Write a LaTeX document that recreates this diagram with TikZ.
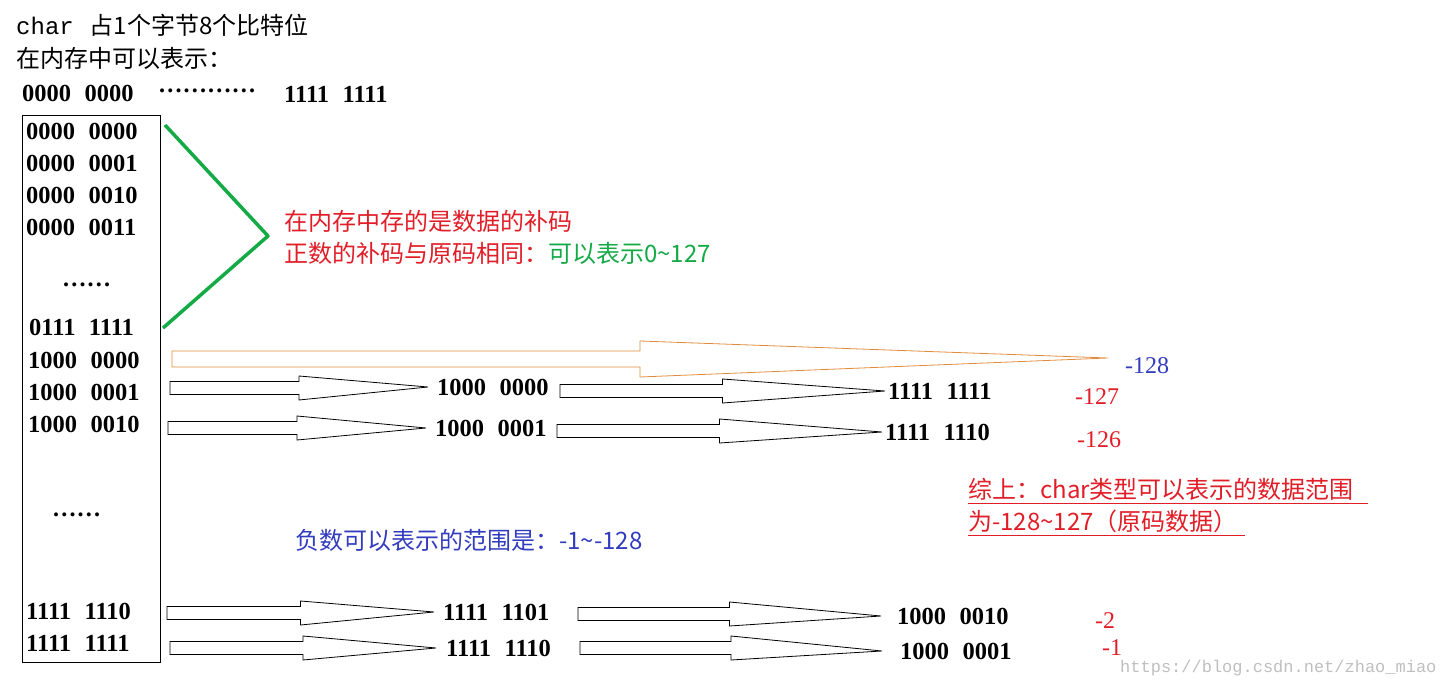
\documentclass[tikz,border=0pt]{standalone}
\usepackage{fontspec}
\setmainfont{Liberation Serif}
\newfontfamily\cjk{Noto Sans CJK SC}
\newfontfamily\mono{Liberation Mono}
\usetikzlibrary{calc}
\definecolor{gr}{RGB}{20,170,70}
\definecolor{rd}{RGB}{225,30,40}
\definecolor{bl}{RGB}{50,60,190}
\definecolor{org}{RGB}{225,140,60}
\newcommand\bigarr[6]{% from, to, shaft half, head half, style, gap
  \draw[#5] let \p1=(#1), \p2=(#2), \n2={\x2-#6}, \n1={(\x1+\n2)/2} in
   (\x1,\y1+#3) -- (\n1,\y1+#3) -- (\n1,\y1+#4) -- (\n2,\y2) -- (\n1,\y1-#4) -- (\n1,\y1-#3) -- (\x1,\y1-#3) -- cycle;}
\newcommand\bb[2]{#1\hspace{0.55em}#2}
\begin{document}
\begin{tikzpicture}[x=1pt,y=-1pt,
  bn/.style={anchor=west,inner sep=0pt,font=\bfseries\fontsize{24.5}{24}\selectfont},
  rn/.style={anchor=west,inner sep=0pt,font=\fontsize{24}{24}\selectfont},
  ct/.style={anchor=west,inner sep=0pt,font=\cjk\fontsize{24}{24}\selectfont},
  arr/.style={draw=black,line width=0.8pt,fill=white}]
\useasboundingbox (0,0) rectangle (1443,687);
\node[ct] (t1) at (16,25) {{\mono char}\hspace{16pt}占1个字节8个比特位};
\node[ct] (t2) at (16,58) {在内存中可以表示：};
\node[bn] (h1) at (22,93) {\bb{0000}{0000}};
\node[bn] (h2) at (158,91) {…………};
\node[bn] (h3) at (284,94) {\bb{1111}{1111}};
\node[draw,line width=0.8pt,minimum width=138pt,minimum height=547pt,inner sep=0pt,anchor=north west] (box) at (22,115) {};
\foreach \n/\x/\y/\a/\b in {r1/26/131/0000/0000,r2/26/163/0000/0001,r3/26/195/0000/0010,r4/26/227/0000/0011,
  r6/29/327/0111/1111,r7/28/360/1000/0000,r8/28/392/1000/0001,r9/28/424/1000/0010,
  r11/26/611/1111/1110,r12/26/643/1111/1111}
  \node[bn] (\n) at (\x,\y) {\bb{\a}{\b}};
\node[bn] (r5) at (62,285) {……};
\node[bn] (r10) at (52,515) {……};
% green brace
\coordinate (ga) at (165,125); \coordinate (gb) at (268,236); \coordinate (gc) at (163,328);
\draw[gr,line width=3.5pt,line join=round] (ga) -- (gb) -- (gc);
\node[ct,rd] (c1) at (284,221) {在内存中存的是数据的补码};
\node[ct,rd] (c2) at (284,253) {正数的补码与原码相同：\textcolor{gr}{可以表示0\textasciitilde127}};
% orange arrow
\coordinate (oa) at (172,359); \coordinate (ob) at (1108,358);
\bigarr{oa}{ob}{8}{18}{draw=org,line width=0.8pt}{0}
\node[rn,bl] (m128) at (1125,366) {-128};
% row 1
\coordinate (a1) at (170,388);
\node[bn] (n1) at (437,387) {\bb{1000}{0000}};
\coordinate (a2) at (560,391);
\node[bn] (n2) at (888,391) {\bb{1111}{1111}};
\bigarr{a1}{n1.west}{6.5}{12}{arr}{9}
\bigarr{a2}{n2.west}{6.5}{12}{arr}{3}
\node[rn,rd] (m127) at (1075,397) {-127};
% row 2
\coordinate (b1) at (168,428);
\node[bn] (n3) at (435,428) {\bb{1000}{0001}};
\coordinate (b2) at (557,431);
\node[bn] (n4) at (885,432) {\bb{1111}{1110}};
\bigarr{b1}{n3.west}{6.5}{12}{arr}{9}
\bigarr{b2}{n4.west}{6.5}{12}{arr}{3}
\node[rn,rd] (m126) at (1077,440) {-126};
% summary
\node[ct,rd] (s1) at (968,489) {综上：char类型可以表示的数据范围};
\node[ct,rd] (s2) at (968,521) {为-128\textasciitilde127（原码数据）};
\draw[rd,line width=1pt] (s1.south west)++(0,3) -- ++(400,0);
\draw[rd,line width=1pt] (s2.south west)++(0,3) -- ++(277,0);
\node[ct,bl] (neg) at (295,540) {负数可以表示的范围是：-1\textasciitilde-128};
% row 3
\coordinate (c1a) at (167,613);
\node[bn] (n5) at (443,612) {\bb{1111}{1101}};
\coordinate (c2a) at (578,614);
\node[bn] (n6) at (897,616) {\bb{1000}{0010}};
\bigarr{c1a}{n5.west}{6.5}{12}{arr}{9}
\bigarr{c2a}{n6.west}{6.5}{12}{arr}{16}
\node[rn,rd] (m2) at (1095,621) {-2};
% row 4
\coordinate (d1) at (170,648);
\node[bn] (n7) at (446,648) {\bb{1111}{1110}};
\coordinate (d2) at (580,648);
\node[bn] (n8) at (900,651) {\bb{1000}{0001}};
\bigarr{d1}{n7.west}{6.5}{12}{arr}{10}
\bigarr{d2}{n8.west}{6.5}{12}{arr}{18}
\node[rn,rd] (m1) at (1102,648) {-1};
\node[anchor=west,inner sep=0pt,text=black!25,font=\mono\fontsize{17}{17}\selectfont] (wm) at (1120,668) {https://blog.csdn.net/zhao\_miao};
\end{tikzpicture}
\end{document}
